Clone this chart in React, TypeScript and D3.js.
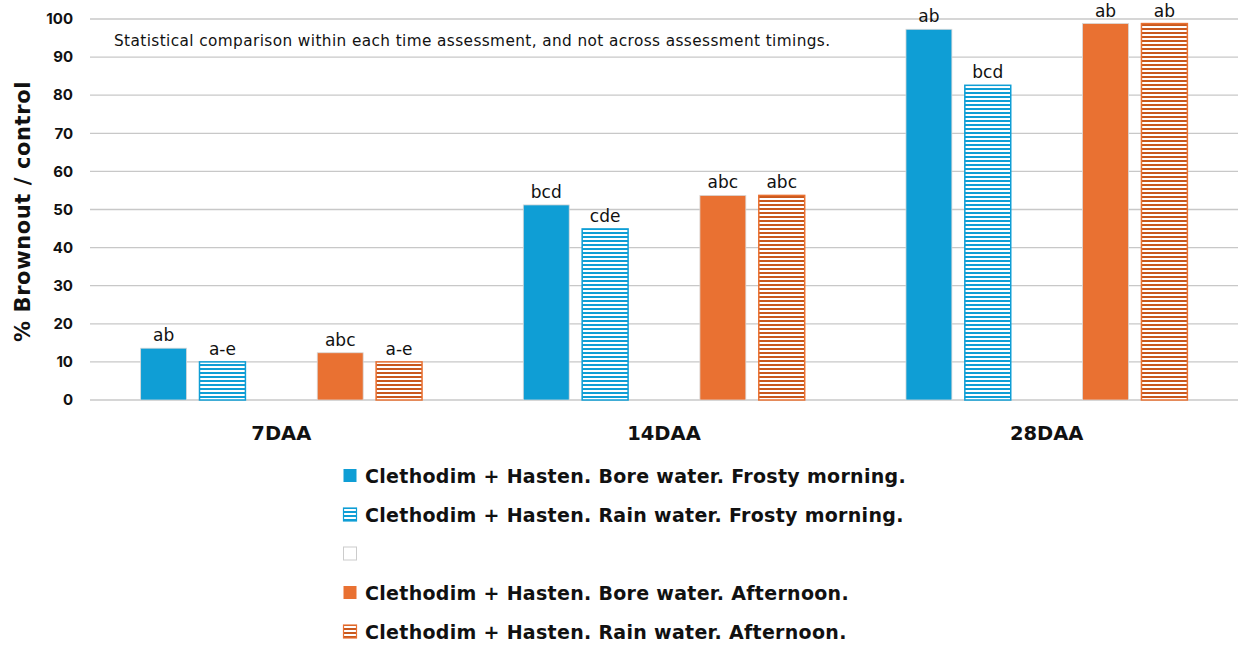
import * as d3 from "d3";
import React from "react";

const categories = ["7DAA", "14DAA", "28DAA"];
const seriesNames = [
  "Clethodim + Hasten. Bore water. Frosty morning.",
  "Clethodim + Hasten. Rain water. Frosty morning.",
  "",
  "Clethodim + Hasten. Bore water. Afternoon.",
  "Clethodim + Hasten. Rain water. Afternoon.",
];
// values per series, per category
const boreFrosty = [13.6, 51.2, 97.3];
const rainFrosty = [10.0, 44.9, 82.6];
const blankSeries = [null, null, null];
const boreAfternoon = [12.4, 53.7, 98.8];
const rainAfternoon = [10.0, 53.7, 98.8];
const letters = [
  ["ab", "bcd", "ab"],
  ["a-e", "cde", "bcd"],
  ["", "", ""],
  ["abc", "abc", "ab"],
  ["a-e", "abc", "ab"],
];
const yTicks = [0, 10, 20, 30, 40, 50, 60, 70, 80, 90, 100];

const BLUE = "#0F9ED5";
const ORANGE = "#E97132";
const ORANGE_DARK = "#C9581D";

const width = 1239;
const height = 646;
const margin = { left: 90, right: 1, top: 19 };
const FONT = "'DejaVu Sans', sans-serif";

const App = () => {
  const data = [boreFrosty, rainFrosty, blankSeries, boreAfternoon, rainAfternoon];
  const styles = [
    { fill: BLUE, hatch: false, color: BLUE },
    { fill: "url(#hatchBlue)", hatch: true, color: BLUE },
    { fill: "none", hatch: false, color: "#ccc" },
    { fill: ORANGE, hatch: false, color: ORANGE },
    { fill: "url(#hatchOrange)", hatch: true, color: ORANGE },
  ];

  const x0 = d3
    .scaleBand()
    .domain(categories)
    .range([margin.left, width - margin.right]);
  const x1 = d3
    .scaleBand()
    .domain(d3.range(5).map(String))
    .range([0, x0.bandwidth()])
    .paddingInner(0.22)
    .paddingOuter(0.86);
  const yy = d3.scaleLinear().domain([0, 100]).range([400, margin.top]);

  const legendY = [476, 515, 554, 593, 632];

  return (
    <svg width={width} height={height} style={{ position: "absolute", left: 0, top: 0 }}>
      <defs>
        <pattern id="hatchBlue" width="4" height="4" patternUnits="userSpaceOnUse">
          <rect width="4" height="4" fill="#fff" />
          <rect y="0" width="4" height="2" fill={BLUE} />
        </pattern>
        <pattern id="hatchOrange" width="4" height="4" patternUnits="userSpaceOnUse">
          <rect width="4" height="4" fill="#fff" />
          <rect y="0" width="4" height="2" fill={ORANGE_DARK} />
        </pattern>
      </defs>
      <rect width={width} height={height} fill="#fff" />
      {yTicks.map((t) => (
        <g key={t}>
          <line
            x1={margin.left}
            x2={width - margin.right}
            y1={yy(t)}
            y2={yy(t)}
            stroke="#c8c8c8"
            strokeWidth={1.3}
          />
          <text
            x={73}
            y={yy(t)}
            dy="0.35em"
            textAnchor="end"
            fontFamily="Inter, 'Open Sans', sans-serif"
            fontWeight="bold"
            fontSize={15}
            fill="#111"
          >
            {t}
          </text>
        </g>
      ))}
      <text
        transform={`translate(30,${(yy(0) + yy(100)) / 2 + 2}) rotate(-90)`}
        textAnchor="middle"
        fontFamily={FONT}
        fontWeight="bold"
        fontSize={21}
        letterSpacing={0.6}
        fill="#111"
      >
        % Brownout / control
      </text>
      <text x={114} y={46} fontFamily={FONT} fontSize={15.3} letterSpacing={0.4} fill="#111">
        Statistical comparison within each time assessment, and not across assessment timings.
      </text>
      {categories.map((c, ci) => (
        <g key={c} transform={`translate(${x0(c)},0)`}>
          {data.map((s, si) => {
            const v = s[ci];
            if (v === null) return null;
            const bx = x1(String(si))!;
            const bw = x1.bandwidth();
            const st = styles[si];
            return (
              <g key={si}>
                <rect
                  x={bx}
                  y={yy(v)}
                  width={bw}
                  height={yy(0) - yy(v)}
                  fill={st.fill}
                  stroke={st.hatch ? st.color : "#d8d8d8"}
                  strokeWidth={st.hatch ? 1.5 : 0.8}
                />
                <text
                  x={bx + bw / 2}
                  y={yy(v) - 7}
                  textAnchor="middle"
                  fontFamily={FONT}
                  fontSize={17}
                  fill="#111"
                >
                  {letters[si][ci]}
                </text>
              </g>
            );
          })}
          <text
            x={x0.bandwidth() / 2}
            y={440}
            textAnchor="middle"
            fontFamily={FONT}
            fontWeight="bold"
            fontSize={19.5}
            fill="#111"
          >
            {c}
          </text>
        </g>
      ))}
      {seriesNames.map((name, si) => {
        const st = styles[si];
        return (
          <g key={si} transform={`translate(343,${legendY[si]})`}>
            <rect
              x={0.5}
              y={-7}
              width={13}
              height={13}
              fill={si === 2 ? "#fff" : st.fill}
              stroke={si === 2 ? "#ccc" : st.color}
              strokeWidth={si === 2 ? 1 : st.hatch ? 1.2 : 0}
            />
            <text
              x={22}
              y={0}
              dy="0.36em"
              fontFamily={FONT}
              fontWeight="bold"
              fontSize={19}
              letterSpacing={0.3}
              fill="#111"
            >
              {name}
            </text>
          </g>
        );
      })}
    </svg>
  );
};

export default App;
